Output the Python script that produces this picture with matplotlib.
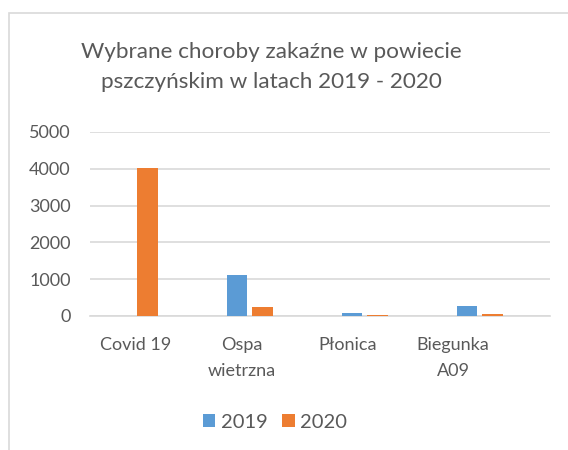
import numpy as np
import matplotlib.pyplot as plt
from matplotlib.patches import Rectangle

plt.rcParams['font.family'] = ['Lato', 'DejaVu Sans']

categories = ['Covid 19', 'Ospa\nwietrzna', 'Płonica', 'Biegunka\nA09']
y2019 = [0, 1125, 73, 283]
y2020 = [4035, 236, 30, 55]

fig = plt.figure(figsize=(5.68, 4.5), dpi=100)
# chart frame (Excel-like border)
fig.patches.append(Rectangle((9 / 568, -0.1), 1.2, (450 - 13) / 450 + 0.1,
                             transform=fig.transFigure, fill=False,
                             edgecolor='#d9d9d9', linewidth=1.2))

ax = fig.add_axes([90 / 568, (450 - 316) / 450, 460 / 568, (316 - 132) / 450])
x = np.arange(len(categories))
w = 0.174
ax.bar(x - 0.22, y2019, w, color='#5b9bd5', label='2019', zorder=3)
ax.bar(x, y2020, w, color='#ed7d31', label='2020', zorder=3)

ax.set_xlim(-0.5, 3.5)
ax.set_ylim(0, 5000)
ax.set_yticks(np.arange(0, 5001, 1000))
ax.yaxis.grid(True, color='#d9d9d9', linewidth=1.2, zorder=0)
for s in ax.spines.values():
    s.set_visible(False)
ax.spines['bottom'].set_visible(True)
ax.spines['bottom'].set_color('#d9d9d9')
ax.spines['bottom'].set_linewidth(1.2)
ax.tick_params(length=0, labelsize=13, labelcolor='#595959')
ax.tick_params(axis='y', pad=14)
ax.tick_params(axis='x', pad=15)
ax.set_xticks(x * 0.919 - 0.1)
ax.set_xticklabels(categories, linespacing=1.8)

fig.text(271 / 568, 1 - 67 / 450, 'Wybrane choroby zakaźne w powiecie\npszczyńskim w latach 2019 - 2020',
         ha='center', va='center', fontsize=16.2, color='#595959', linespacing=1.58)

fig.legend(loc='center', bbox_to_anchor=(275 / 568, 1 - 422 / 450), ncol=2, frameon=False,
           fontsize=14.5, labelcolor='#595959', handlelength=0.6, handleheight=0.6,
           handletextpad=0.28, columnspacing=0.75)

fig.savefig('out.png', dpi=100)
